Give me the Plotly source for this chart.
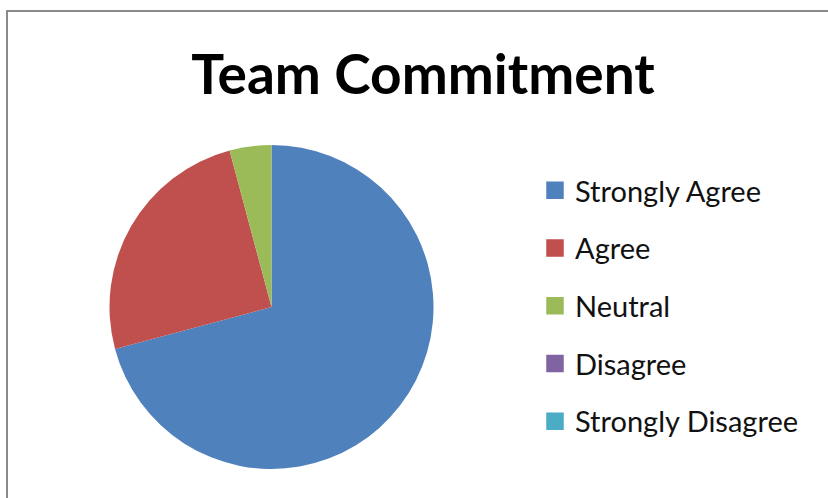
import plotly.graph_objects as go

# Survey responses for the "Team Commitment" question
categories = ["Strongly Agree", "Agree", "Neutral", "Disagree", "Strongly Disagree"]
responses = [17, 6, 1, 0, 0]
colors = ["#4F81BD", "#C0504D", "#9BBB59", "#8064A2", "#4BACC6"]
chart_title = "Team Commitment"

W, H = 828, 498
FONT = "Lato, 'Open Sans', sans-serif"


def px_x(px):
    return px / W


def px_y(py):
    return 1 - py / H


fig = go.Figure()

fig.add_trace(go.Pie(
    labels=categories,
    values=responses,
    sort=False,
    direction="clockwise",
    rotation=0,
    marker=dict(colors=colors, line=dict(width=0)),
    textinfo="none",
    hoverinfo="label+value+percent",
    showlegend=False,
    domain=dict(x=[px_x(108), px_x(435)], y=[px_y(469), px_y(145)]),
))

# One legend entry per category, each in its own group so the rows are spaced out
for name, color in zip(categories, colors):
    fig.add_trace(go.Scatter(
        x=[None], y=[None],
        mode="markers",
        name=name,
        legendgroup=name,
        marker=dict(symbol="square", size=20, color=color,
                    line=dict(color=color, width=1.5)),
        hoverinfo="skip",
    ))

fig.update_layout(
    width=W, height=H,
    margin=dict(l=0, r=0, t=0, b=0),
    paper_bgcolor="white",
    plot_bgcolor="white",
    xaxis=dict(visible=False),
    yaxis=dict(visible=False),
    title=dict(
        text="<b>" + chart_title + "</b>",
        font=dict(family=FONT, size=55, color="black"),
        x=px_x(423), xanchor="center",
        xref="paper",
        y=px_y(75), yanchor="middle",
        yref="container",
    ),
    legend=dict(
        x=px_x(535), xanchor="left",
        y=px_y(165), yanchor="top",
        traceorder="grouped",
        tracegroupgap=17,
        font=dict(family=FONT, size=29, color="#111111"),
        bgcolor="rgba(0,0,0,0)",
        itemsizing="trace",
    ),
    shapes=[dict(
        type="rect", xref="paper", yref="paper",
        x0=px_x(7), x1=1.2, y0=-0.2, y1=px_y(11),
        line=dict(color="#8a8a8a", width=2),
        fillcolor="rgba(0,0,0,0)",
        layer="above",
    )],
)

fig.write_html("out.html")
